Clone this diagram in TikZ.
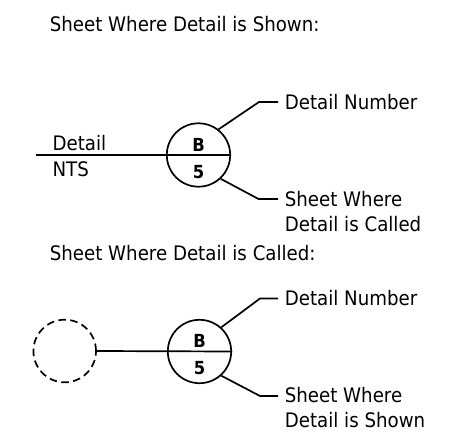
\documentclass[tikz,border=0pt]{standalone}
\usepackage{fontspec}
\setmainfont{DejaVu Sans}[FakeStretch=0.91]
\begin{document}
\begin{tikzpicture}[x=1pt,y=-1pt, line width=1.7pt,
 lbl/.style={anchor=base west, inner sep=0pt, font=\fontsize{20}{24}\selectfont},
 bubble/.style={circle, draw, minimum size=63.4pt, inner sep=0pt},
 num/.style={inner sep=0pt, anchor=base, font=\fontsize{18}{20}\selectfont\bfseries},
 callcircle/.style={circle, draw, dash pattern=on 7.5pt off 4.5pt, minimum size=62.6pt, inner sep=0pt},
]
\useasboundingbox (0,0) rectangle (458,444);
% titles
\node[lbl] (t1) at (49,31.7) {Sheet Where Detail is Shown:};
\node[lbl] (t2) at (49,260.7) {Sheet Where Detail is Called:};
% top group
\node[bubble] (c1) at (198.5,155) {};
\coordinate (l1) at (36,155);
\draw (l1) -- (c1.east);
\node[num] (b1) at (198.5,151) {B};
\node[num] (n1) at (198.5,178.3) {5};
\node[lbl] (dt) at (51.7,150) {Detail};
\node[lbl] (nts) at (51.7,176) {NTS};
\coordinate (e1) at (259,102); \coordinate (f1) at (278,102);
\coordinate (g1) at (258.5,199); \coordinate (h1) at (278,199);
\draw (c1.52) -- (e1) -- (f1);
\draw (c1.-47) -- (g1) -- (h1);
\node[lbl] (dn1) at (284,109.3) {Detail Number};
\node[lbl] (sw1) at (284,206.7) {Sheet Where};
\node[lbl] (dc1) at (284,231.7) {Detail is Called};
% bottom group
\node[bubble] (c2) at (199.5,351.5) {};
\node[callcircle] (d2) at (64.7,351) {};
\draw (d2.east) -- (c2.east);
\node[num] (b2) at (199.5,347.5) {B};
\node[num] (n2) at (199.5,374.8) {5};
\coordinate (e2) at (260,298.5); \coordinate (f2) at (278,298.5);
\coordinate (g2) at (260,396); \coordinate (h2) at (278,396);
\draw (c2.48) -- (e2) -- (f2);
\draw (c2.-48) -- (g2) -- (h2);
\node[lbl] (dn2) at (284,305.3) {Detail Number};
\node[lbl] (sw2) at (284,402) {Sheet Where};
\node[lbl] (ds2) at (284,427) {Detail is Shown};
\end{tikzpicture}
\end{document}
